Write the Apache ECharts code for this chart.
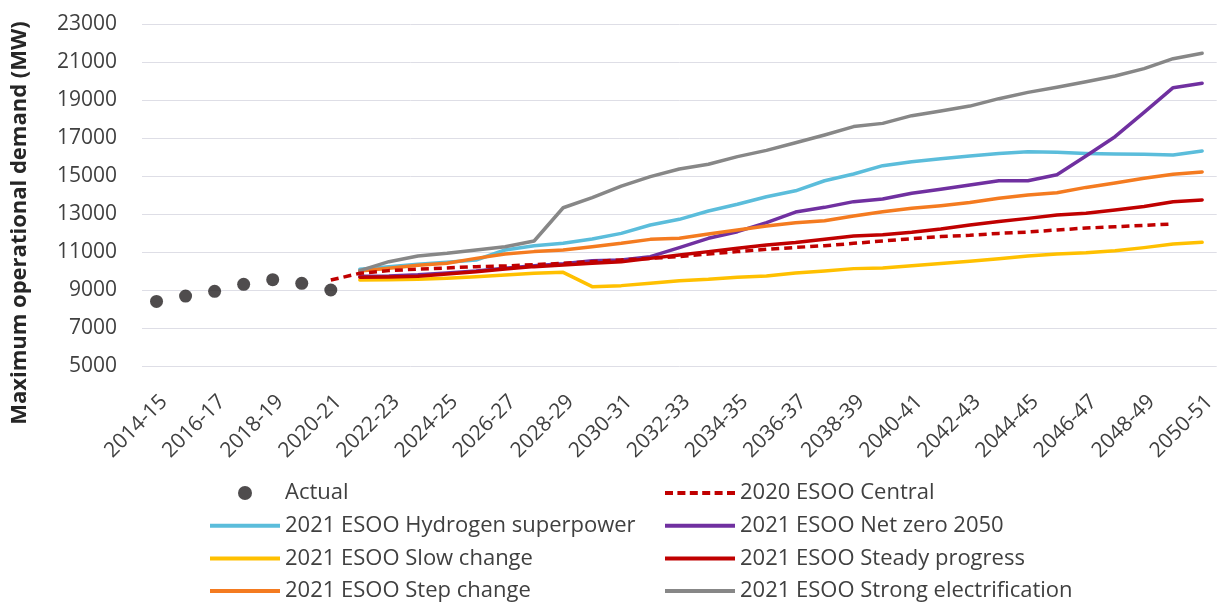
<!DOCTYPE html>
<html>
<head>
<meta charset="utf-8">
<script src="https://cdn.jsdelivr.net/npm/echarts@6/dist/echarts.min.js"></script>
<style>
html,body{margin:0;padding:0;background:#fff;}
#chart{width:1219px;height:605px;}
</style>
</head>
<body>
<div id="chart"></div>
<script>
var categories = ['2014-15','2015-16','2016-17','2017-18','2018-19','2019-20','2020-21','2021-22','2022-23','2023-24','2024-25','2025-26','2026-27','2027-28','2028-29','2029-30','2030-31','2031-32','2032-33','2033-34','2034-35','2035-36','2036-37','2037-38','2038-39','2039-40','2040-41','2041-42','2042-43','2043-44','2044-45','2045-46','2046-47','2047-48','2048-49','2049-50','2050-51'];
var yTicks = [5000, 7000, 9000, 11000, 13000, 15000, 17000, 19000, 21000, 23000];

var actual = [8400, 8680, 8930, 9300, 9545, 9350, 9000, null, null, null, null, null, null, null, null, null, null, null, null, null, null, null, null, null, null, null, null, null, null, null, null, null, null, null, null, null, null];
var central2020 = [null, null, null, null, null, null, 9525, 9880, 10020, 10100, 10160, 10230, 10265, 10335, 10405, 10490, 10580, 10665, 10755, 10895, 11020, 11140, 11240, 11330, 11455, 11580, 11700, 11810, 11880, 11980, 12050, 12160, 12260, 12330, 12400, 12475, null];
var hydrogen = [null, null, null, null, null, null, null, 10090, 10225, 10360, 10455, 10580, 11105, 11330, 11455, 11685, 11980, 12420, 12720, 13160, 13510, 13910, 14220, 14750, 15105, 15545, 15755, 15910, 16050, 16190, 16280, 16250, 16190, 16160, 16140, 16105, 16320];
var netZero = [null, null, null, null, null, null, null, 9720, 9740, 9800, 9900, 10000, 10150, 10280, 10380, 10540, 10580, 10755, 11230, 11720, 12070, 12545, 13100, 13350, 13650, 13790, 14090, 14300, 14530, 14750, 14750, 15070, 16050, 17070, 18350, 19650, 19880];
var slowChange = [null, null, null, null, null, null, null, 9530, 9540, 9560, 9615, 9700, 9790, 9880, 9930, 9175, 9230, 9350, 9490, 9560, 9665, 9735, 9890, 10000, 10125, 10160, 10280, 10400, 10510, 10650, 10790, 10895, 10965, 11070, 11230, 11420, 11510];
var steadyProgress = [null, null, null, null, null, null, null, 9670, 9680, 9720, 9840, 9965, 10105, 10230, 10315, 10405, 10490, 10665, 10840, 11020, 11195, 11370, 11500, 11670, 11840, 11910, 12035, 12210, 12420, 12610, 12770, 12950, 13035, 13210, 13390, 13650, 13740];
var stepChange = [null, null, null, null, null, null, null, 10000, 10140, 10300, 10405, 10665, 10895, 11020, 11105, 11280, 11455, 11665, 11720, 11950, 12160, 12370, 12545, 12650, 12895, 13120, 13300, 13440, 13610, 13825, 14000, 14120, 14400, 14630, 14880, 15090, 15210];
var strongElec = [null, null, null, null, null, null, null, 10020, 10490, 10790, 10930, 11105, 11280, 11580, 13330, 13860, 14470, 14965, 15370, 15615, 16020, 16350, 16750, 17160, 17600, 17770, 18175, 18420, 18680, 19070, 19400, 19670, 19965, 20260, 20650, 21175, 21460];

var FONT = '"Open Sans", "Noto Sans", sans-serif';
var TXT = '#404040';
var LINE_ICON = 'path://M0,0h70v4h-70z';
var DASH_ICON = 'path://M0,0h8v4h-8z M12.4,0h8v4h-8z M24.8,0h8v4h-8z M37.2,0h8v4h-8z M49.6,0h8v4h-8z M62,0h8v4h-8z';

function lineSeries(name, data, color, z) {
  return {
    name: name, type: 'line', data: data, showSymbol: false, symbol: 'none',
    connectNulls: false, z: z || 2,
    lineStyle: { color: color, width: 3.5, cap: 'round', join: 'round' },
    itemStyle: { color: color }
  };
}

var legendBase = {
  orient: 'vertical', top: 482, padding: 0, height: 123, itemWidth: 70, itemHeight: 14, itemGap: 10.7,
  textStyle: { color: TXT, fontFamily: FONT, fontSize: 22, lineHeight: 22 }
};

var chart = echarts.init(document.getElementById('chart'), null, { renderer: 'canvas' });
chart.setOption({
  animation: false,
  backgroundColor: '#fff',
  grid: { left: 142, right: -8, top: 24, bottom: 239, containLabel: false },
  xAxis: {
    type: 'category', data: categories, boundaryGap: true,
    axisLine: { show: false }, axisTick: { show: false },
    axisLabel: { interval: 1, rotate: 45, margin: 25, verticalAlign: 'top', color: TXT, fontFamily: FONT, fontSize: 21 },
    splitLine: { show: false }
  },
  yAxis: {
    type: 'value', min: yTicks[0], max: yTicks[yTicks.length - 1], interval: 2000,
    axisLine: { show: false }, axisTick: { show: false },
    axisLabel: { margin: 25, color: TXT, fontFamily: FONT, fontSize: 21, formatter: function (v) { return String(v); } },
    splitLine: { lineStyle: { color: '#dedee6', width: 1 } }
  },
  graphic: [{
    type: 'text', x: 20, y: 223, rotation: Math.PI / 2,
    style: { text: 'Maximum operational demand (MW)', fill: '#262626', font: 'bold 22px "Open Sans", sans-serif', textAlign: 'center', textVerticalAlign: 'middle' }
  }],
  legend: [
    Object.assign({}, legendBase, {
      left: 210,
      data: [{ name: 'Actual', icon: 'circle' },
             { name: '2021 ESOO Hydrogen superpower', icon: LINE_ICON },
             { name: '2021 ESOO Slow change', icon: LINE_ICON },
             { name: '2021 ESOO Step change', icon: LINE_ICON }]
    }),
    Object.assign({}, legendBase, {
      left: 665,
      data: [{ name: '2020 ESOO Central', icon: DASH_ICON },
             { name: '2021 ESOO Net zero 2050', icon: LINE_ICON },
             { name: '2021 ESOO Steady progress', icon: LINE_ICON },
             { name: '2021 ESOO Strong electrification', icon: LINE_ICON }]
    })
  ],
  series: [
    lineSeries('2021 ESOO Hydrogen superpower', hydrogen, '#5BBDDB', 2),
    lineSeries('2021 ESOO Net zero 2050', netZero, '#7030A0', 3),
    lineSeries('2021 ESOO Slow change', slowChange, '#FFC000', 4),
    lineSeries('2021 ESOO Steady progress', steadyProgress, '#C00000', 5),
    lineSeries('2021 ESOO Step change', stepChange, '#F47B20', 6),
    lineSeries('2021 ESOO Strong electrification', strongElec, '#878787', 7),
    {
      name: '2020 ESOO Central', type: 'line', data: central2020, showSymbol: false, symbol: 'none', z: 8,
      lineStyle: { color: '#C00000', width: 3.5, type: [8, 5], cap: 'butt' },
      itemStyle: { color: '#C00000' }
    },
    {
      name: 'Actual', type: 'scatter', data: actual, symbol: 'circle', symbolSize: 13, z: 9,
      itemStyle: { color: '#231F20' }
    }
  ]
});
</script>
</body>
</html>
